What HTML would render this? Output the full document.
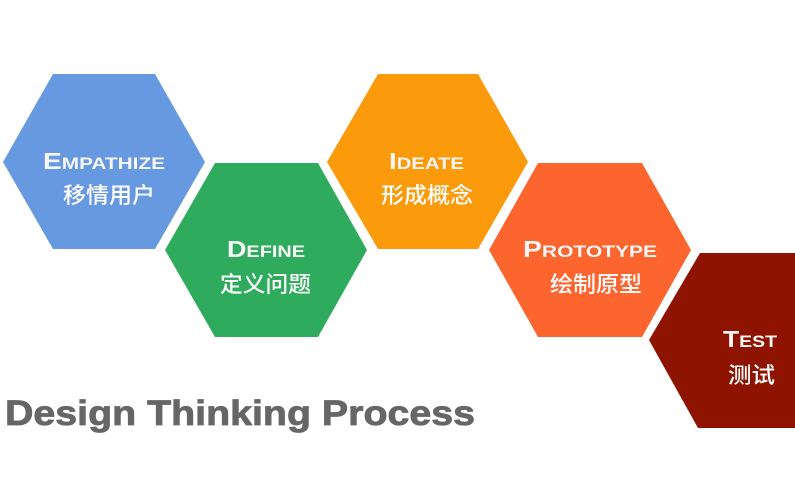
<!DOCTYPE html>
<html><head><meta charset="utf-8"><style>
html,body{margin:0;padding:0;background:#fff;width:795px;height:500px;overflow:hidden}
svg{display:block}
.en{font-family:"Liberation Sans",sans-serif;font-weight:bold;fill:#f6f6f6}
.zh{font-family:"Liberation Sans","Noto Sans CJK SC",sans-serif;font-size:22px;fill:#fff;font-weight:500}
</style></head><body>
<svg width="795" height="500" viewBox="0 0 795 500" xmlns="http://www.w3.org/2000/svg">
<rect width="795" height="500" fill="#fff"/>
<polygon points="53,74 155,74 205,162 155,249 53,249 3,162" fill="#6699e0"/>
<polygon points="215,163 318,163 367,250 318,337 215,337 165,250" fill="#2fab5d"/>
<polygon points="378,74 478,74 528,162 478,249 378,249 327,162" fill="#fb9a0a"/>
<polygon points="538,163 642,163 691,250 642,337 538,337 489,250" fill="#fd652f"/>
<polygon points="700,253 802,253 851,340 802,428 698,428 649,340" fill="#8e1300"/>

<text class="en" x="43" y="169" textLength="122" lengthAdjust="spacingAndGlyphs"><tspan font-size="23">E</tspan><tspan font-size="17">MPATHIZE</tspan></text>
<text class="zh" x="63" y="203" textLength="92" lengthAdjust="spacingAndGlyphs">移情用户</text>

<text class="en" x="227" y="257" textLength="78" lengthAdjust="spacingAndGlyphs"><tspan font-size="23">D</tspan><tspan font-size="17">EFINE</tspan></text>
<text class="zh" x="220" y="292" textLength="91" lengthAdjust="spacingAndGlyphs">定义问题</text>

<text class="en" x="389" y="169" textLength="75" lengthAdjust="spacingAndGlyphs"><tspan font-size="23">I</tspan><tspan font-size="17">DEATE</tspan></text>
<text class="zh" x="381" y="203" textLength="92" lengthAdjust="spacingAndGlyphs">形成概念</text>

<text class="en" x="523" y="257" textLength="134" lengthAdjust="spacingAndGlyphs"><tspan font-size="23">P</tspan><tspan font-size="17">ROTOTYPE</tspan></text>
<text class="zh" x="550" y="292" textLength="92" lengthAdjust="spacingAndGlyphs">绘制原型</text>

<text class="en" x="723" y="347" textLength="54" lengthAdjust="spacingAndGlyphs"><tspan font-size="23">T</tspan><tspan font-size="17">EST</tspan></text>
<text class="zh" x="728" y="383" textLength="47" lengthAdjust="spacingAndGlyphs">测试</text>

<text x="5" y="425" font-family="Liberation Sans,sans-serif" font-weight="bold" font-size="35" fill="#666" stroke="#666" stroke-width="0.8" textLength="470" lengthAdjust="spacingAndGlyphs">Design Thinking Process</text>
</svg>
</body></html>
